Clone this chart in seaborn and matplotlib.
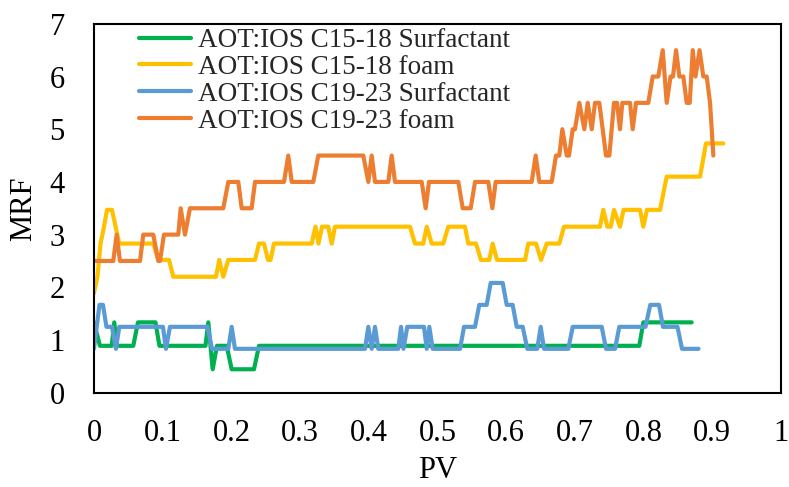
import matplotlib
matplotlib.use("Agg")
import matplotlib.pyplot as plt
import numpy as np
import pandas as pd
import seaborn as sns

# ---- data -------------------------------------------------------------
labels = [
    "AOT:IOS C15-18 Surfactant",
    "AOT:IOS C15-18 foam",
    "AOT:IOS C19-23 Surfactant",
    "AOT:IOS C19-23 foam",
]
colors = ["#00B050", "#FFC000", "#5B9BD5", "#ED7D31"]

pv_c1518_surf = [0, 0.0087, 0.0258, 0.0295, 0.0335, 0.0572, 0.0640, 0.0895, 0.0953,
                 0.1623, 0.1664, 0.1728, 0.1790, 0.1932, 0.2004, 0.2329, 0.2402,
                 0.7937, 0.7996, 0.8700]
mrf_c1518_surf = [1.335, 0.89, 0.89, 1.335, 0.89, 0.89, 1.335, 1.335, 0.89,
                  0.89, 1.335, 0.445, 0.89, 0.89, 0.445, 0.445, 0.89,
                  0.89, 1.335, 1.335]

pv_c1518_foam = [0, 0.0051, 0.0095, 0.0146, 0.0189, 0.0262, 0.0368, 0.0863, 0.0936,
                 0.1092, 0.1154, 0.1776, 0.1824, 0.1882, 0.1955, 0.2344, 0.2402,
                 0.2475, 0.2533, 0.2570, 0.2620, 0.3169, 0.3224, 0.3268, 0.3319,
                 0.3410, 0.3460, 0.3508, 0.4600, 0.4672, 0.4793, 0.4843, 0.4916,
                 0.5084, 0.5157, 0.5400, 0.5448, 0.5560, 0.5633, 0.5754, 0.5803,
                 0.5866, 0.6274, 0.6322, 0.6434, 0.6507, 0.6590, 0.6773, 0.6841,
                 0.7365, 0.7413, 0.7472, 0.7521, 0.7569, 0.7656, 0.7707, 0.7948,
                 0.7996, 0.8049, 0.8239, 0.8336, 0.8821, 0.8908, 0.9160]
mrf_c1518_foam = [1.89, 2.2, 2.83, 3.15, 3.47, 3.47, 2.83, 2.83, 2.52,
                  2.52, 2.2, 2.2, 2.52, 2.2, 2.52, 2.52, 2.83,
                  2.83, 2.52, 2.52, 2.83, 2.83, 3.15, 2.83, 3.15,
                  3.15, 2.83, 3.15, 3.15, 2.83, 2.83, 3.15, 2.83,
                  2.83, 3.15, 3.15, 2.83, 2.83, 2.52, 2.52, 2.83,
                  2.52, 2.52, 2.83, 2.83, 2.52, 2.83, 2.83, 3.15,
                  3.15, 3.47, 3.15, 3.15, 3.47, 3.15, 3.47, 3.47,
                  3.15, 3.47, 3.47, 4.1, 4.1, 4.73, 4.73]

pv_c1923_surf = [0, 0.0080, 0.0131, 0.0182, 0.0262, 0.0320, 0.0368, 0.1004, 0.1048,
                 0.1106, 0.1652, 0.1718, 0.1955, 0.2004, 0.2052, 0.3945, 0.3993,
                 0.4042, 0.4090, 0.4138, 0.4429, 0.4469, 0.4505, 0.4560, 0.4803,
                 0.4843, 0.4881, 0.4930, 0.5328, 0.5386, 0.5546, 0.5608, 0.5716,
                 0.5774, 0.5949, 0.6007, 0.6094, 0.6153, 0.6240, 0.6307, 0.6452,
                 0.6502, 0.6550, 0.6904, 0.6968, 0.7390, 0.7453, 0.7584, 0.7646,
                 0.8027, 0.8097, 0.8224, 0.8282, 0.8493, 0.8559, 0.8799]
mrf_c1923_surf = [0.833, 1.667, 1.667, 1.25, 1.25, 0.833, 1.25, 1.25, 0.833,
                  1.25, 1.25, 0.833, 0.833, 1.25, 0.833, 0.833, 1.25,
                  0.833, 1.25, 0.833, 0.833, 1.25, 0.833, 1.25, 1.25,
                  0.833, 1.25, 0.833, 0.833, 1.25, 1.25, 1.667, 1.667,
                  2.083, 2.083, 1.667, 1.667, 1.25, 1.25, 0.833, 0.833,
                  1.25, 0.833, 0.833, 1.25, 1.25, 0.833, 0.833, 1.25,
                  1.25, 1.667, 1.667, 1.25, 1.25, 0.833, 0.833]

pv_c1923_foam = [0, 0.0281, 0.0330, 0.0378, 0.0670, 0.0718, 0.0863, 0.0936, 0.0961,
                 0.1019, 0.1227, 0.1262, 0.1325, 0.1397, 0.1882, 0.1955, 0.2100,
                 0.2150, 0.2295, 0.2344, 0.2766, 0.2828, 0.2878, 0.3192, 0.3265,
                 0.3920, 0.3993, 0.4042, 0.4090, 0.4284, 0.4333, 0.4381, 0.4770,
                 0.4828, 0.4876, 0.5303, 0.5367, 0.5483, 0.5546, 0.5739, 0.5798,
                 0.5847, 0.6371, 0.6429, 0.6482, 0.6662, 0.6725, 0.6773, 0.6817,
                 0.6881, 0.6914, 0.6968, 0.7001, 0.7064, 0.7137, 0.7186, 0.7245,
                 0.7293, 0.7355, 0.7453, 0.7501, 0.7569, 0.7613, 0.7656, 0.7690,
                 0.7802, 0.7841, 0.7889, 0.8068, 0.8132, 0.8214, 0.8278, 0.8336,
                 0.8392, 0.8428, 0.8472, 0.8520, 0.8578, 0.8627, 0.8671, 0.8715,
                 0.8755, 0.8814, 0.8869, 0.8918, 0.8967, 0.9015]
mrf_c1923_foam = [2.5, 2.5, 3, 2.5, 2.5, 3, 3, 2.5, 2.5,
                  3, 3, 3.5, 3, 3.5, 3.5, 4, 4,
                  3.5, 3.5, 4, 4, 4.5, 4, 4, 4.5,
                  4.5, 4, 4.5, 4, 4, 4.5, 4, 4,
                  3.5, 4, 4, 3.5, 3.5, 4, 4, 3.5,
                  4, 4, 4.5, 4, 4, 4.5, 4.5, 5,
                  4.5, 4.5, 5, 5, 5.5, 5, 5.5, 5,
                  5.5, 5.5, 4.5, 4.5, 5.5, 5.5, 5, 5.5,
                  5.5, 5, 5.5, 5.5, 6, 6, 6.5, 5.5,
                  6, 6, 6.5, 6, 6, 5.5, 5.5, 6.5,
                  6, 6.5, 6, 6, 5.5, 4.5]

x_ticks = [0, 0.1, 0.2, 0.3, 0.4, 0.5, 0.6, 0.7, 0.8, 0.9, 1]
x_tick_labels = ["0", "0.1", "0.2", "0.3", "0.4", "0.5", "0.6", "0.7", "0.8", "0.9", "1"]
y_ticks = [0, 1, 2, 3, 4, 5, 6, 7]

# ---- long table --------------------------------------------------------
frames = []
for name, xs, ys in zip(labels,
                        [pv_c1518_surf, pv_c1518_foam, pv_c1923_surf, pv_c1923_foam],
                        [mrf_c1518_surf, mrf_c1518_foam, mrf_c1923_surf, mrf_c1923_foam]):
    frames.append(pd.DataFrame({"PV": xs, "MRF": ys, "series": name}))
df = pd.concat(frames, ignore_index=True)

# ---- figure --------------------------------------------------------------
sns.set_theme(style="white")
plt.rcParams["font.family"] = ["Liberation Serif", "DejaVu Serif"]

fig = plt.figure(figsize=(7.89, 4.87), dpi=100)
ax = fig.add_axes([0.1191, 0.1936, 0.8708, 0.7575])

sns.lineplot(data=df, x="PV", y="MRF", hue="series", hue_order=labels,
             palette=colors, estimator=None, sort=False, linewidth=3.0,
             solid_joinstyle="round", solid_capstyle="round", ax=ax)

ax.set_xlim(0, 1)
ax.set_ylim(0, 7)
ax.set_xticks(x_ticks)
ax.set_xticklabels(x_tick_labels)
ax.set_yticks(y_ticks)
ax.tick_params(axis="both", direction="in", length=7, width=1.5, colors="black",
               labelsize=22)
ax.tick_params(axis="x", pad=19)
ax.tick_params(axis="y", pad=21)
ax.set_xlabel("PV", fontsize=22, labelpad=6, color="black")
ax.set_ylabel("MRF", fontsize=22, labelpad=8, color="black")
for s in ax.spines.values():
    s.set_linewidth(1.5)
    s.set_color("black")

leg = ax.legend(loc="upper left", bbox_to_anchor=(139 / 789, 1 - 28 / 487),
                bbox_transform=fig.transFigure, frameon=False, fontsize=19.5,
                handlelength=1.92, handletextpad=0.26, labelspacing=0.07,
                borderpad=0, borderaxespad=0)
for line in leg.get_lines():
    line.set_linewidth(3.0)

fig.savefig("out.png", dpi=100)
